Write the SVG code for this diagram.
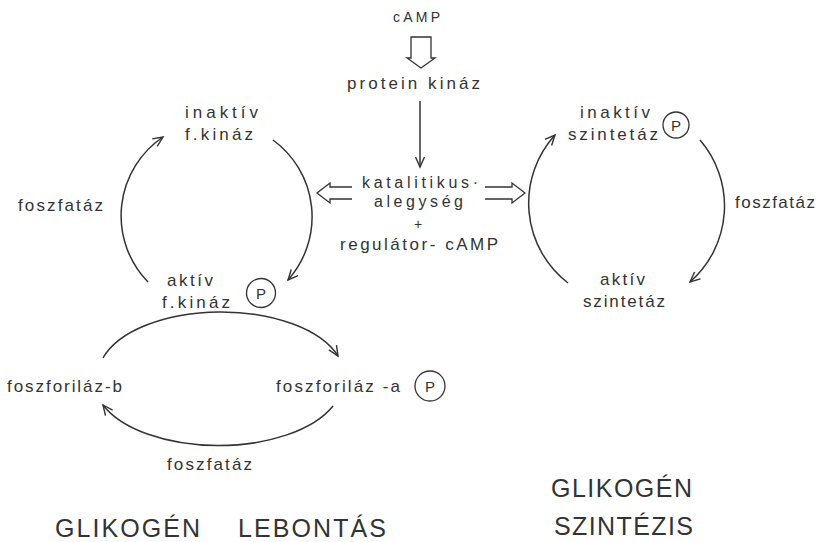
<svg xmlns="http://www.w3.org/2000/svg" width="821" height="542" viewBox="0 0 821 542">
<defs>
<marker id="ah" viewBox="-11 -6 13 12" refX="0" refY="0" markerWidth="13" markerHeight="12" markerUnits="userSpaceOnUse" orient="auto">
<path d="M-10,-4.5 L0,0 L-10,4.5" fill="none" stroke="#333" stroke-width="1.4"/>
</marker>
<style>
text{font-family:"Liberation Sans",Arial,sans-serif;fill:#333;font-size:17px}
.sm{font-size:14px}
.pp{font-size:15px}
.md{font-size:16px}
.tt{font-size:25px}
.ln{fill:none;stroke:#333;stroke-width:1.5}
.ar{fill:none;stroke:#333;stroke-width:1.5;marker-end:url(#ah)}
.hol{fill:none;stroke:#333;stroke-width:1.3;stroke-linejoin:miter}
.pc{fill:none;stroke:#333;stroke-width:1.3}
</style>
</defs>
<rect width="821" height="542" fill="#fff"/>

<g id="connectors">
<path class="hol" d="M411,37 L431,37 L431,58 L435,58 L421,68 L407,58 L411,58 Z"/>
<path class="ar" d="M420,101 L420,167"/>
<path class="hol" d="M352,187 L330,187 L330,183 L317,193 L330,203 L330,199 L352,199"/>
<path class="hol" d="M485,187 L512,187 L512,183 L525,193 L512,203 L512,199 L485,199"/>
<path class="ar" d="M148,282 A95,95 0 0 1 163,137"/>
<path class="ar" d="M273,140 A95,95 0 0 1 288,280"/>
<path class="ar" d="M568,283 A101,101 0 0 1 555,135"/>
<path class="ar" d="M700,140 A101,101 0 0 1 690,282"/>
<path class="ar" d="M103,358 A123,64 0 0 1 338,356"/>
<path class="ar" d="M333,406 A124,64 0 0 1 103,405"/>
</g>

<g id="camp"><text class="sm" x="393" y="22" textLength="47" lengthAdjust="spacing">cAMP</text></g>
<g id="protein-kinaz"><text x="347" y="89" textLength="133" lengthAdjust="spacing">protein kináz</text></g>
<g id="katalitikus">
<text class="md" x="362" y="188" textLength="116" lengthAdjust="spacing">katalitikus·</text>
<text class="md" x="374" y="207" textLength="89" lengthAdjust="spacing">alegység</text>
<text class="sm" x="418" y="229" text-anchor="middle">+</text>
<text x="340" y="250" textLength="158" lengthAdjust="spacing">regulátor- cAMP</text>
</g>

<g id="inaktiv-fkinaz">
<text x="185" y="118" textLength="73" lengthAdjust="spacing">inaktív</text>
<text x="185" y="140" textLength="68" lengthAdjust="spacing">f.kináz</text>
</g>
<g id="foszfataz-left"><text x="18" y="211" textLength="85" lengthAdjust="spacing">foszfatáz</text></g>
<g id="aktiv-fkinaz">
<text x="167" y="286" textLength="46" lengthAdjust="spacing">aktív</text>
<text x="162" y="308" textLength="68" lengthAdjust="spacing">f.kináz</text>
<circle class="pc" cx="261" cy="293" r="14.5"/>
<text class="pp" x="261" y="298.5" text-anchor="middle">P</text>
</g>

<g id="inaktiv-szintetaz">
<text x="580" y="118" textLength="70" lengthAdjust="spacing">inaktív</text>
<text x="568" y="140" textLength="90" lengthAdjust="spacing">szintetáz</text>
<circle class="pc" cx="676" cy="125" r="13"/>
<text class="pp" x="676" y="130.5" text-anchor="middle">P</text>
</g>
<g id="foszfataz-right"><text x="735" y="208" textLength="80" lengthAdjust="spacing">foszfatáz</text></g>
<g id="aktiv-szintetaz">
<text x="600" y="285" textLength="45" lengthAdjust="spacing">aktív</text>
<text x="583" y="307" textLength="82" lengthAdjust="spacing">szintetáz</text>
</g>

<g id="foszforilaz-b"><text x="7" y="392" textLength="115" lengthAdjust="spacing">foszforiláz-b</text></g>
<g id="foszforilaz-a">
<text x="276" y="392" textLength="124" lengthAdjust="spacing">foszforiláz -a</text>
<circle class="pc" cx="430" cy="386" r="15"/>
<text class="pp" x="430" y="391.5" text-anchor="middle">P</text>
</g>
<g id="foszfataz-bottom"><text x="167" y="470" textLength="85" lengthAdjust="spacing">foszfatáz</text></g>

<g id="title-lebontas">
<text class="tt" y="537"><tspan x="55" textLength="145" lengthAdjust="spacing">GLIKOGÉN</tspan> <tspan x="238" textLength="148" lengthAdjust="spacing">LEBONTÁS</tspan></text>
</g>
<g id="title-szintezis">
<text class="tt" x="551" y="497" textLength="141" lengthAdjust="spacing">GLIKOGÉN</text>
<text class="tt" x="554" y="535" textLength="139" lengthAdjust="spacing">SZINTÉZIS</text>
</g>
</svg>
